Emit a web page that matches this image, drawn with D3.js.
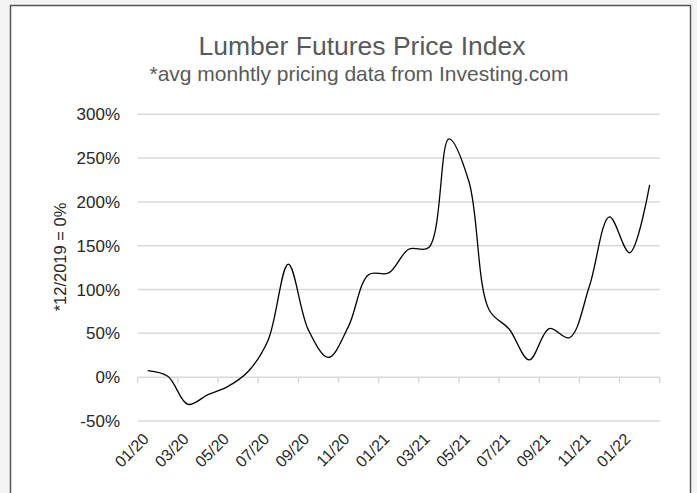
<!DOCTYPE html>
<html><head><meta charset="utf-8">
<script src="https://cdn.jsdelivr.net/npm/d3@7"></script>
<style>
html,body{margin:0;padding:0;background:#f4f4f4;}
svg{display:block;font-family:"Liberation Sans",Arial,sans-serif;}
</style></head><body>
<svg id="c" width="697" height="493"></svg>
<script>
const months = ["01/20","02/20","03/20","04/20","05/20","06/20","07/20","08/20","09/20","10/20","11/20","12/20",
"01/21","02/21","03/21","04/21","05/21","06/21","07/21","08/21","09/21","10/21","11/21","12/21","01/22","02/22"];
const values = [7.5,1,-31,-20,-10.5,6.5,42.5,129,54,22.5,58,117,119,146,148,272,223,77,55,19.7,55.5,45,104,183,142,219.5];
const yTicks = [-50,0,50,100,150,200,250,300];
const title = "Lumber Futures Price Index";
const subtitle = "*avg monhtly pricing data from Investing.com";
const yTitle = "*12/2019 = 0%";

const svg = d3.select("#c");
svg.append("rect").attr("x",10.5).attr("y",5.5).attr("width",680).attr("height",500)
  .attr("fill","#fff").attr("stroke","#555").attr("stroke-width",1.5);

const x = d3.scaleBand().domain(months).range([137.7,659.7]);
const y = d3.scaleLinear().domain([-50,300]).range([421,114.3]);

// gridlines
svg.append("g").selectAll("line").data(yTicks).join("line")
  .attr("x1",137.7).attr("x2",659.7).attr("y1",d=>y(d)).attr("y2",d=>y(d))
  .attr("stroke","#d9d9d9").attr("stroke-width",1.5);

// y labels
svg.append("g").selectAll("text").data(yTicks).join("text")
  .attr("x",120).attr("y",d=>y(d)).attr("dy","0.36em").attr("text-anchor","end")
  .attr("font-size",17).attr("fill","#262626").text(d=>d+"%");

// x ticks
const tickPos = months.filter((m,i)=>i%2===0).map(m=>x(m)).concat([x.range()[1]]);
svg.append("g").selectAll("line").data(tickPos).join("line")
  .attr("x1",d=>d).attr("x2",d=>d).attr("y1",y(0)).attr("y2",y(0)+6)
  .attr("stroke","#d9d9d9").attr("stroke-width",1.5);

// x labels
svg.append("g").selectAll("text").data(months.filter((m,i)=>i%2===0)).join("text")
  .attr("transform",d=>`translate(${x(d)+x.bandwidth()/2+2},${440}) rotate(-45)`)
  .attr("text-anchor","end").attr("font-size",16).attr("fill","#262626").text(d=>d);

// line
const line = d3.line().x((d,i)=>x(months[i])+x.bandwidth()/2).y(d=>y(d)).curve(d3.curveCatmullRom.alpha(0.5));
svg.append("path").datum(values).attr("d",line).attr("fill","none").attr("stroke","#000").attr("stroke-width",1.3);

// titles
svg.append("text").attr("x",362).attr("y",55).attr("text-anchor","middle").attr("font-size",26.5)
  .attr("fill","#595959").text(title);
svg.append("text").attr("x",359).attr("y",81).attr("text-anchor","middle").attr("font-size",21)
  .attr("fill","#595959").text(subtitle);
svg.append("text").attr("transform","translate(66,257) rotate(-90)").attr("text-anchor","middle")
  .attr("font-size",16.5).attr("fill","#262626").text(yTitle);
</script></body></html>
